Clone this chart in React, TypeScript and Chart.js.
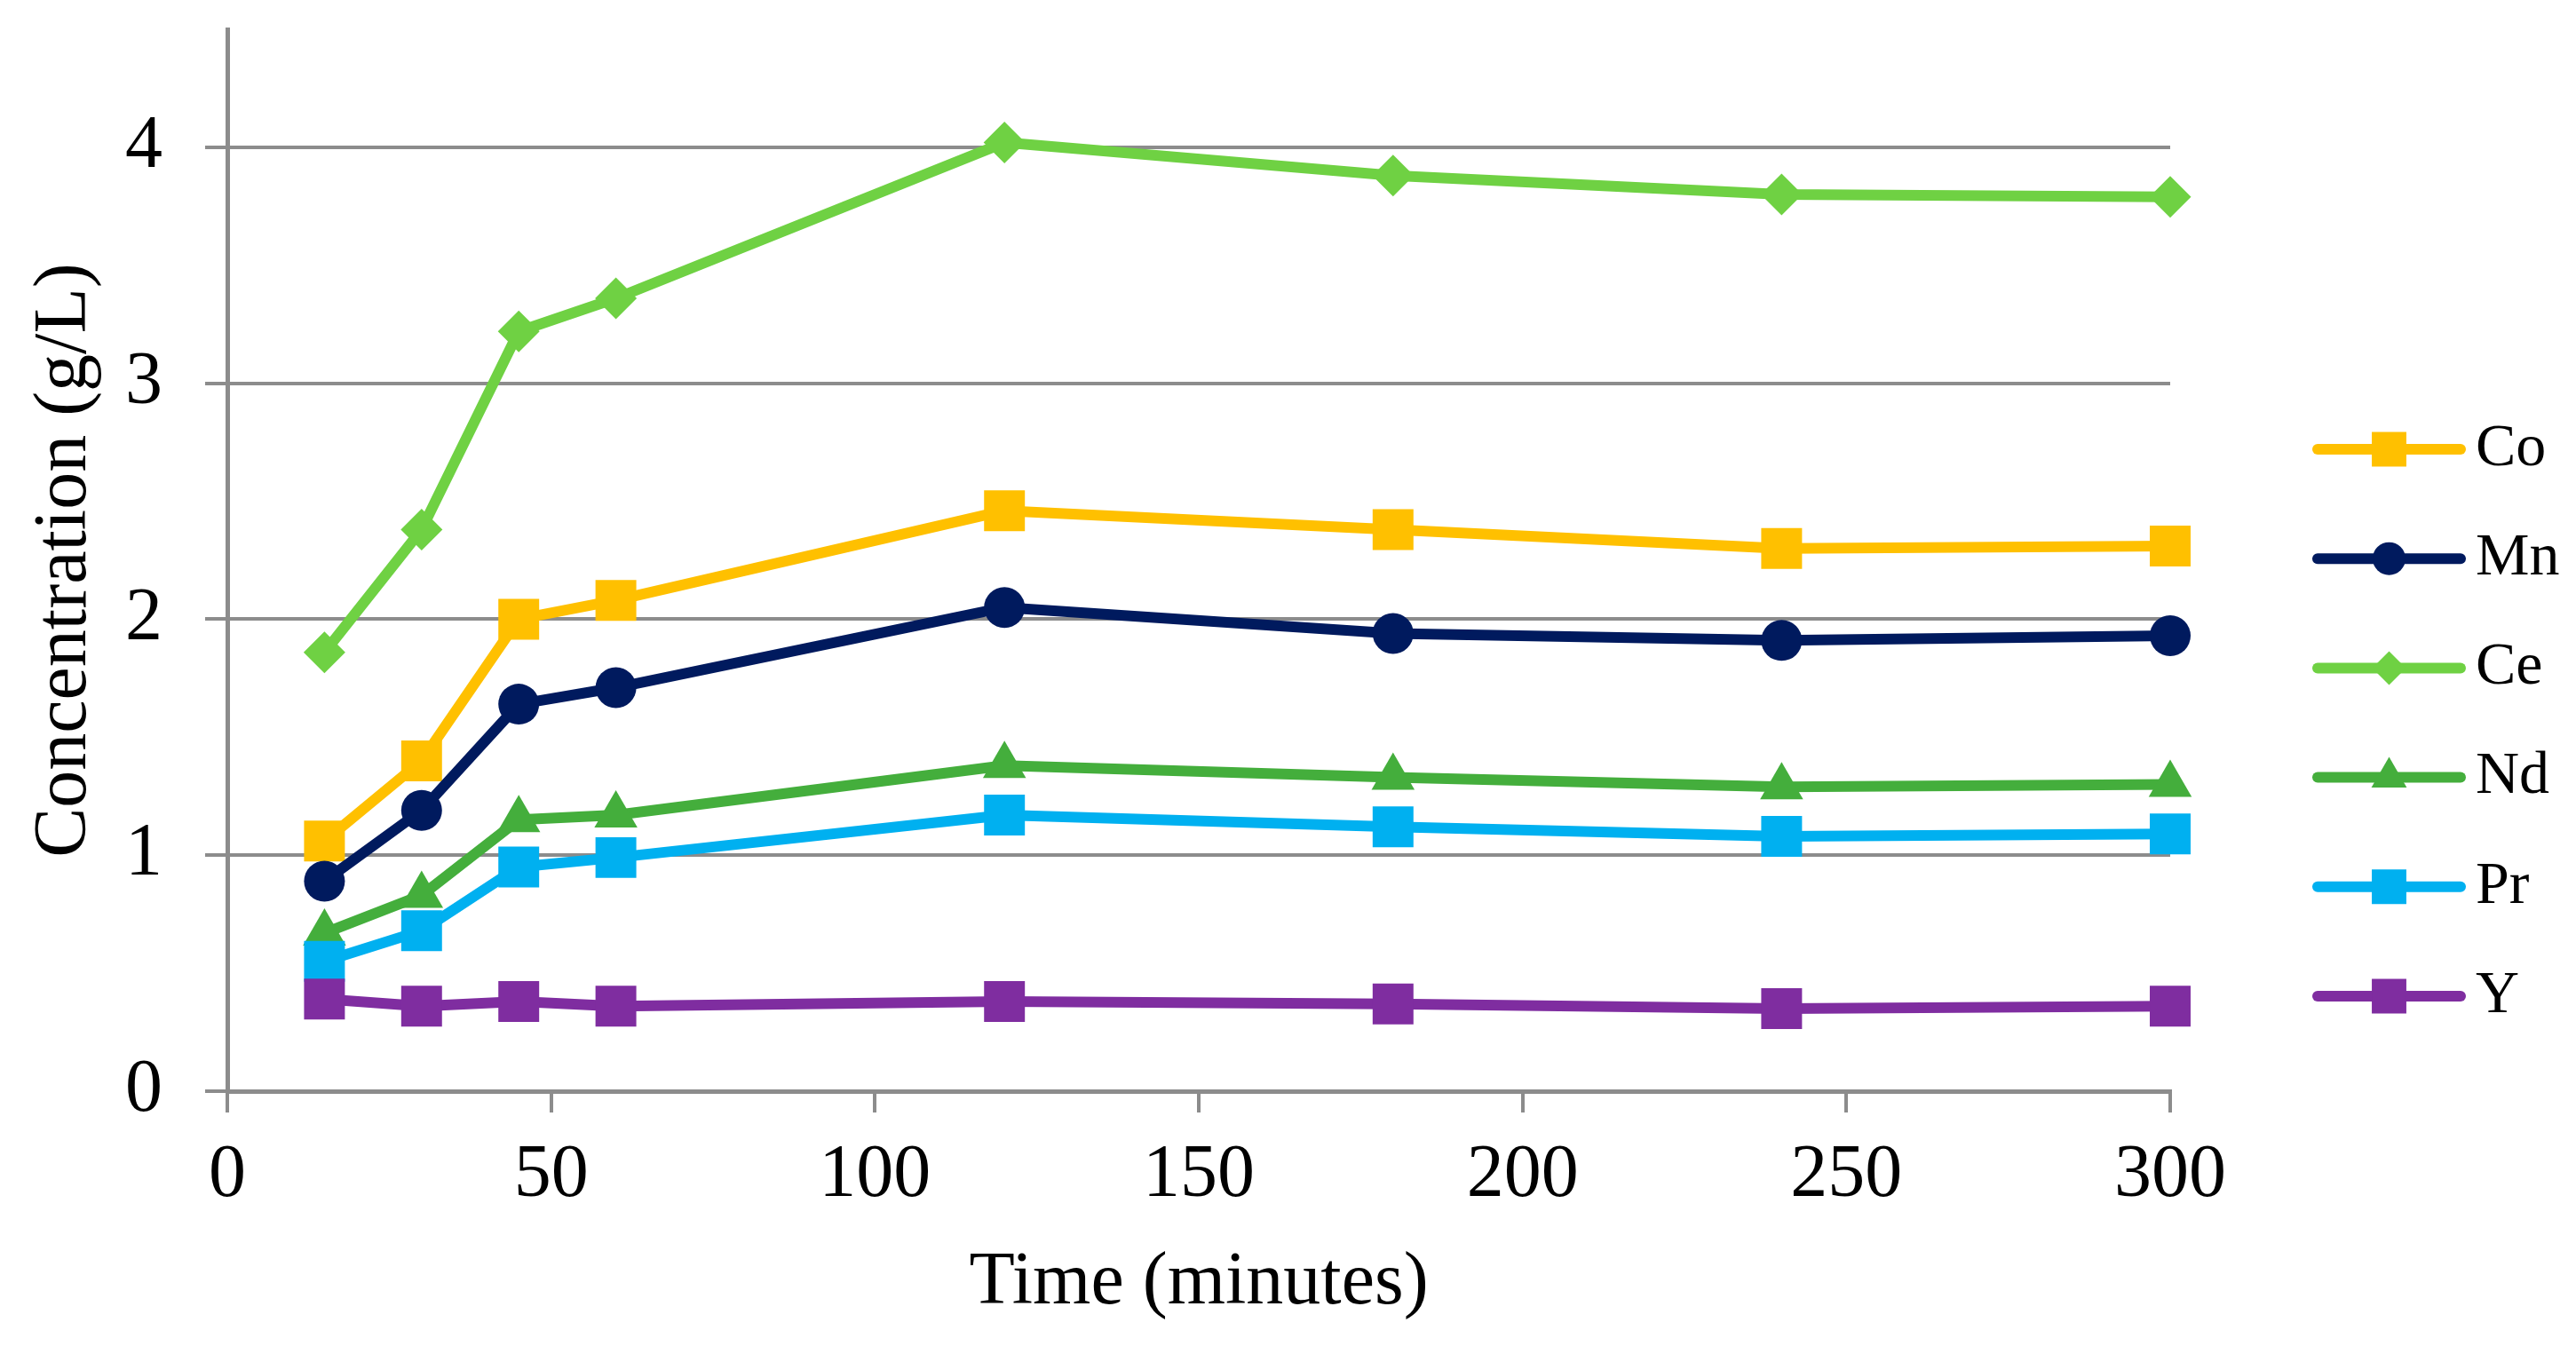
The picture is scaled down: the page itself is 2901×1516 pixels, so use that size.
import React, { useEffect, useRef } from 'react';
import { Chart, registerables } from 'chart.js';
import { drawPoint } from 'chart.js/helpers';

Chart.register(...registerables);

// ---- data ----
const timeMinutes = [15, 30, 45, 60, 120, 180, 240, 300];
const seriesNames = ['Co', 'Mn', 'Ce', 'Nd', 'Pr', 'Y'];
const coValues = [1.06, 1.40, 2.00, 2.08, 2.46, 2.38, 2.30, 2.31];
const mnValues = [0.89, 1.19, 1.64, 1.71, 2.05, 1.94, 1.91, 1.93];
const ceValues = [1.86, 2.38, 3.22, 3.36, 4.02, 3.88, 3.80, 3.79];
const ndValues = [0.67, 0.83, 1.15, 1.17, 1.38, 1.33, 1.29, 1.30];
const prValues = [0.55, 0.68, 0.95, 0.99, 1.17, 1.12, 1.08, 1.09];
const yValues = [0.39, 0.36, 0.38, 0.36, 0.38, 0.37, 0.35, 0.36];
const xAxisTitle = 'Time (minutes)';
const yAxisTitle = 'Concentration (g/L)';

// ---- styles ----
const FONT = '"Liberation Serif", "Times New Roman", serif';
const GRID = '#8C8C8C';
const seriesColors = ['#FFC000', '#001A5E', '#6FD143', '#44AE3C', '#00B0F0', '#7F2DA0'];
const seriesStyles = ['rect', 'circle', 'rectRot', 'triangle', 'rect', 'rect'];
const seriesRadius = [32.5, 23, 23.5, 28, 32.5, 32.5];
const legendRadius = [27.5, 18.5, 19, 23, 27.5, 27.5];

const allValues = [coValues, mnValues, ceValues, ndValues, prValues, yValues];

const legendPlugin = {
  id: 'lineMarkerLegend',
  afterDraw(chart: any) {
    const ctx = chart.ctx;
    const area = chart.chartArea;
    const x0 = area.right + 166;
    const x1 = area.right + 327;
    const xm = (x0 + x1) / 2;
    const xt = area.right + 344;
    chart.data.datasets.forEach((ds: any, i: number) => {
      const y = 506 + i * 123.2;
      ctx.save();
      ctx.strokeStyle = ds.borderColor;
      ctx.lineWidth = 12;
      ctx.lineCap = 'round';
      ctx.beginPath();
      ctx.moveTo(x0, y);
      ctx.lineTo(x1, y);
      ctx.stroke();
      ctx.fillStyle = ds.pointBackgroundColor;
      ctx.strokeStyle = ds.pointBackgroundColor;
      drawPoint(ctx, { pointStyle: ds.pointStyle, radius: legendRadius[i], borderWidth: 0, rotation: 0 } as any, xm, y);
      ctx.fillStyle = '#000';
      ctx.font = `68px ${FONT}`;
      ctx.textAlign = 'left';
      ctx.textBaseline = 'middle';
      ctx.fillText(ds.label, xt, y);
      ctx.restore();
    });
  },
};

export default function App() {
  const canvasRef = useRef<HTMLCanvasElement | null>(null);

  useEffect(() => {
    document.body.style.margin = '0';
    document.body.style.overflow = 'hidden';
    const canvas = canvasRef.current;
    if (!canvas) return;

    const datasets = seriesNames.map((name, i) => ({
      label: name,
      data: timeMinutes.map((t, j) => ({ x: t, y: allValues[i][j] })),
      borderColor: seriesColors[i],
      backgroundColor: seriesColors[i],
      borderWidth: 12,
      borderJoinStyle: 'round' as const,
      borderCapStyle: 'round' as const,
      tension: 0,
      fill: false,
      pointStyle: seriesStyles[i],
      pointRadius: seriesRadius[i],
      pointHoverRadius: seriesRadius[i],
      pointBackgroundColor: seriesColors[i],
      pointBorderColor: seriesColors[i],
      pointBorderWidth: 0,
      clip: false as const,
      order: seriesNames.length - 1 - i,
    }));

    const tickFont = { family: FONT, size: 84, lineHeight: 1.2 };
    const titleFont = { family: FONT, size: 84, lineHeight: 1 };

    const chart = new Chart(canvas, {
      type: 'line',
      data: { datasets },
      options: {
        animation: false,
        responsive: true,
        maintainAspectRatio: false,
        devicePixelRatio: 1,
        layout: { padding: { left: 0, top: 33, right: 457, bottom: 0 } },
        plugins: {
          legend: { display: false },
          tooltip: { enabled: false },
        },
        events: [],
        scales: {
          x: {
            type: 'linear',
            min: 0,
            max: 300,
            ticks: {
              stepSize: 50,
              color: '#000',
              font: tickFont,
              padding: 22,
              maxRotation: 0,
              minRotation: 0,
            },
            grid: {
              drawOnChartArea: false,
              drawTicks: true,
              tickLength: 24,
              color: GRID,
              lineWidth: 4,
            },
            border: { display: true, color: GRID, width: 5 },
            title: {
              display: true,
              text: xAxisTitle,
              color: '#000',
              font: titleFont,
              padding: { top: 0, bottom: 28 },
            },
            afterFit(scale: any) {
              scale.height = 287;
              scale.paddingLeft = 0;
              scale.paddingRight = 0;
            },
          },
          y: {
            type: 'linear',
            min: 0,
            max: 4.5,
            bounds: 'data',
            ticks: {
              stepSize: 1,
              includeBounds: false,
              color: '#000',
              font: tickFont,
              padding: 48,
            },
            grid: {
              color: GRID,
              lineWidth: 4,
              tickLength: 25,
              drawTicks: true,
            },
            border: { display: true, color: GRID, width: 5 },
            title: {
              display: true,
              text: yAxisTitle,
              color: '#000',
              font: titleFont,
              padding: { top: 32, bottom: 0 },
            },
            afterFit(scale: any) {
              scale.width = 256;
              scale.paddingTop = 0;
              scale.paddingBottom = 0;
            },
          },
        },
      } as any,
      plugins: [legendPlugin],
    });

    return () => {
      chart.destroy();
    };
  }, []);

  return (
    <div style={{ width: 2901, height: 1516, position: 'relative', background: '#fff', overflow: 'hidden' }}>
      <canvas ref={canvasRef} />
    </div>
  );
}
